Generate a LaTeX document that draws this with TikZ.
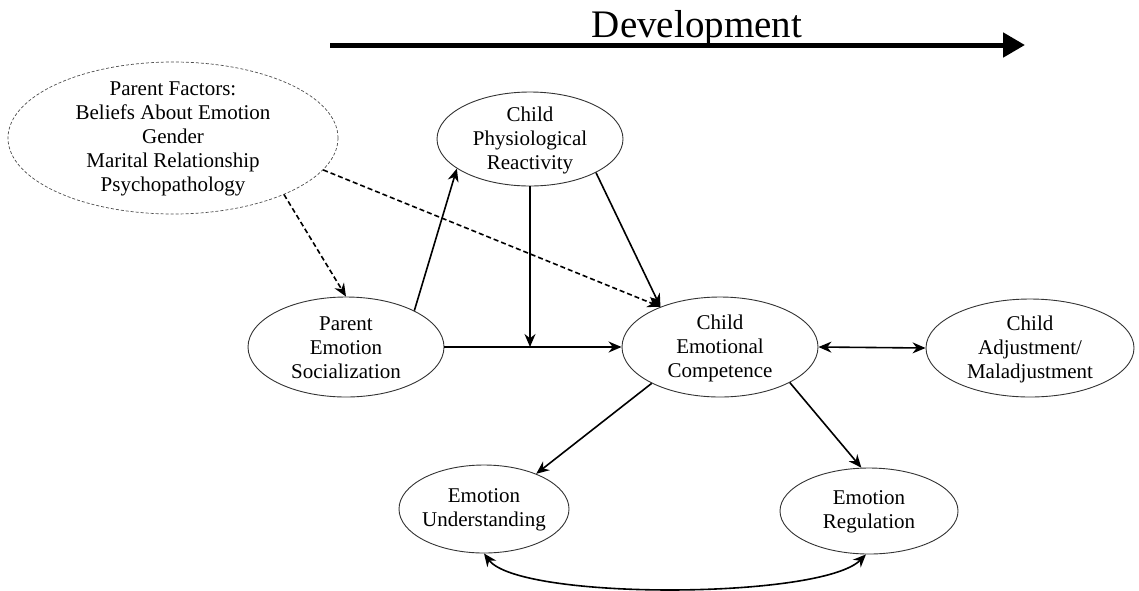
\documentclass[tikz,border=0pt]{standalone}
\usepackage{fontspec}
\setmainfont{Liberation Serif}
\usetikzlibrary{shapes.geometric,arrows.meta}
\tikzset{
  ell/.style={ellipse, draw=black!80, line width=0.9pt, inner sep=0pt},
  dell/.style={ell, draw=black!70, line width=0.7pt, dash pattern=on 3pt off 2pt},
  txt/.style={align=center, font=\fontsize{21}{24}\selectfont, yshift=-1pt},
  arr/.style={line width=1.6pt, -{Stealth[length=13pt,width=11pt]}},
  darr/.style={arr, dash pattern=on 5pt off 3pt},
  dbl/.style={line width=1.6pt, {Stealth[length=13pt,width=11pt]}-{Stealth[length=13pt,width=11pt]}},
}
\begin{document}
\begin{tikzpicture}[x=1pt,y=-1pt]
\useasboundingbox (0,0) rectangle (1139,590);
% development
\node[anchor=base, font=\fontsize{39}{44}\selectfont] (dev) at (697,37) {Development};
\coordinate (ds) at (330,45);
\coordinate (de) at (1025,45);
\draw[line width=5pt, -{Triangle[length=22pt,width=24pt]}] (ds) -- (de);
% ellipses
\node[dell, minimum width=330pt, minimum height=152pt] (PF) at (173,138) {};
\node[txt] (PFt) at (PF.center) {Parent Factors:\\Beliefs About Emotion\\Gender\\Marital Relationship\\Psychopathology};
\node[ell, minimum width=186pt, minimum height=94pt] (CPR) at (530,139) {};
\node[txt] (CPRt) at (CPR.center) {Child\\Physiological\\Reactivity};
\node[ell, minimum width=196pt, minimum height=100pt] (PES) at (346,347) {};
\node[txt] (PESt) at (PES.center) {Parent\\Emotion\\Socialization};
\node[ell, minimum width=196pt, minimum height=100pt] (CEC) at (720,347) {};
\node[txt] (CECt) at (CEC.center) {Child\\Emotional\\Competence};
\node[ell, minimum width=208pt, minimum height=98pt] (CAM) at (1030,348) {};
\node[txt] (CAMt) at (CAM.center) {Child\\Adjustment/\\Maladjustment};
\node[ell, minimum width=170pt, minimum height=88pt] (EU) at (484,509) {};
\node[txt] (EUt) at (EU.center) {Emotion\\Understanding};
\node[ell, minimum width=178pt, minimum height=86pt] (ER) at (869,511) {};
\node[txt] (ERt) at (ER.center) {Emotion\\Regulation};
% connectors
\draw[darr] (PF.-27) -- (PES.north);
\draw[darr] (PF.-12) -- (CEC.146);
\draw[arr] (PES.28) -- (CPR.-158);
\draw[arr] (CPR.-27) -- (CEC.146);
\draw[arr] (PES.east) -- (CEC.west);
\coordinate (mod) at (CPR.south |- PES.east);
\draw[arr] (CPR.south) -- (mod);
\draw[dbl] (CEC.east) -- (CAM.west);
\draw[arr] (CEC.208) -- (EU.34);
\draw[arr] (CEC.-27) -- (ER.100);
\draw[dbl] (EU.south) .. controls +(35,47) and +(-45,45) .. (ER.266);
\end{tikzpicture}
\end{document}
